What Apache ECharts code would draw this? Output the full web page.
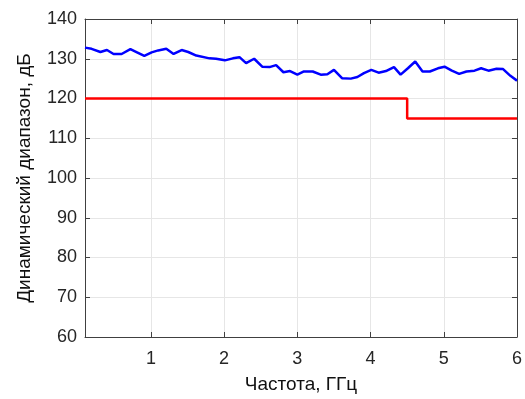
<!DOCTYPE html>
<html>
<head>
<meta charset="utf-8">
<script src="https://cdn.jsdelivr.net/npm/echarts@6/dist/echarts.min.js"></script>
<style>
  html, body { margin: 0; padding: 0; background: #fff; }
  #chart { width: 525px; height: 399px; }
</style>
</head>
<body>
<div id="chart"></div>
<script>
// measured dynamic range, GHz / dB
var freq = [0.10, 0.19, 0.31, 0.40, 0.49, 0.60, 0.72, 0.81, 0.91, 1.01, 1.10, 1.21, 1.31, 1.42, 1.51, 1.62, 1.80, 1.89, 2.01, 2.12, 2.21, 2.30, 2.41, 2.52, 2.62, 2.71, 2.81, 2.90, 3.00, 3.09, 3.21, 3.32, 3.41, 3.50, 3.61, 3.73, 3.82, 3.91, 4.01, 4.11, 4.21, 4.32, 4.41, 4.51, 4.61, 4.71, 4.81, 4.92, 5.01, 5.11, 5.21, 5.31, 5.42, 5.51, 5.61, 5.72, 5.81, 5.91, 6.00];
var range = [132.8, 132.5, 131.7, 132.2, 131.2, 131.2, 132.4, 131.6, 130.7, 131.6, 132.1, 132.5, 131.2, 132.2, 131.7, 130.8, 130.1, 130.0, 129.6, 130.1, 130.4, 128.9, 130.0, 128.0, 127.9, 128.4, 126.6, 126.9, 126.0, 126.8, 126.8, 126.0, 126.1, 127.2, 125.1, 125.0, 125.4, 126.4, 127.2, 126.5, 126.9, 127.9, 126.0, 127.6, 129.3, 126.8, 126.8, 127.6, 128.0, 127.0, 126.2, 126.8, 127.0, 127.6, 127.0, 127.5, 127.4, 125.7, 124.5];
// requirement (step)
var reqFreq = [0.1, 4.5, 6.0];
var reqLevel = [120, 115, 115];
var xTicks = [1, 2, 3, 4, 5, 6];

var chart = echarts.init(document.getElementById('chart'));
var axisCol = '#404040';
var font = 'Liberation Sans, Arial, sans-serif';

var option = {
  animation: false,
  grid: { left: 85, right: 5, top: 19, bottom: 61, containLabel: false },
  xAxis: [{
    type: 'value', min: 0.1, max: 6,
    name: 'Частота, ГГц', nameLocation: 'middle', nameGap: 38,
    nameTextStyle: { color: '#111', fontSize: 19, fontFamily: font },
    axisLine: { onZero: false, lineStyle: { color: axisCol, width: 1 } },
    axisTick: { inside: true, length: 5, customValues: xTicks, lineStyle: { color: axisCol } },
    axisLabel: { customValues: xTicks, color: '#262626', fontSize: 18, fontFamily: font, margin: 13 },
    splitLine: { show: true, lineStyle: { color: '#e6e6e6' } }
  }, {
    type: 'value', min: 0.1, max: 6, position: 'top',
    axisLine: { onZero: false, lineStyle: { color: axisCol, width: 1 } },
    axisTick: { inside: true, length: 5, customValues: xTicks, lineStyle: { color: axisCol } },
    axisLabel: { show: false, customValues: xTicks },
    splitLine: { show: false }
  }],
  yAxis: [{
    type: 'value', min: 60, max: 140, interval: 10,
    name: 'Динамический диапазон, дБ', nameLocation: 'middle', nameGap: 51,
    nameTextStyle: { color: '#111', fontSize: 19, fontFamily: font },
    axisLine: { show: true, onZero: false, lineStyle: { color: axisCol, width: 1 } },
    axisTick: { show: true, inside: true, length: 5, lineStyle: { color: axisCol } },
    axisLabel: { color: '#262626', fontSize: 18, fontFamily: font, margin: 8 },
    splitLine: { show: true, lineStyle: { color: '#e6e6e6' } }
  }, {
    type: 'value', min: 60, max: 140, interval: 10, position: 'right',
    axisLine: { show: true, onZero: false, lineStyle: { color: axisCol, width: 1 } },
    axisTick: { show: true, inside: true, length: 5, lineStyle: { color: axisCol } },
    axisLabel: { show: false },
    splitLine: { show: false }
  }],
  series: [{
    type: 'line',
    data: freq.map(function (f, i) { return [f, range[i]]; }),
    showSymbol: false,
    lineStyle: { color: '#0000ff', width: 2.5 },
    itemStyle: { color: '#0000ff' }
  }, {
    type: 'line', step: 'end',
    data: reqFreq.map(function (f, i) { return [f, reqLevel[i]]; }),
    showSymbol: false,
    lineStyle: { color: '#ff0000', width: 2.5 },
    itemStyle: { color: '#ff0000' }
  }]
};
chart.setOption(option);
</script>
</body>
</html>
